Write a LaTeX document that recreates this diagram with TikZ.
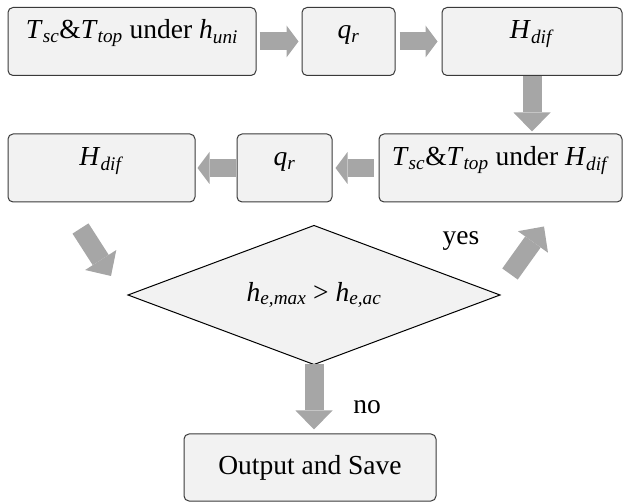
\documentclass[tikz,border=0pt]{standalone}
\usepackage{fontspec}
\setmainfont{Liberation Serif}
\usetikzlibrary{calc,positioning,shapes.geometric,arrows.meta}
\definecolor{boxfill}{HTML}{F2F2F2}
\definecolor{arrowgray}{HTML}{A6A6A6}
\definecolor{boxline}{HTML}{3A3A3A}
\newcommand{\isub}[2]{\textit{#1}\textsubscript{\textit{#2}}}

\begin{document}
\begin{tikzpicture}[x=1pt,y=-1pt,
	font=\fontsize{27.5}{33}\selectfont,
	box/.style={draw=boxline,line width=1pt,fill=boxfill,rounded corners=5pt,inner sep=0pt,minimum height=68pt},
	toptext/.style={text height=20pt,text depth=25pt},
	decision/.style={diamond,draw=black,line width=1pt,fill=boxfill,inner sep=0pt,outer sep=0pt,aspect=2.7,minimum width=372pt,minimum height=139pt},
	harrow/.style={draw=arrowgray,line width=18pt,-{Triangle[length=12pt,width=32pt,line width=0pt]}},
	varrow/.style={draw=arrowgray,line width=19pt,-{Triangle[length=19pt,width=37pt,line width=0pt]}}]
	\useasboundingbox (0,0) rectangle (624,502);
	
	% first row
	\node[box,toptext,minimum width=248pt] (tuni) at (132,41.5) {\isub{T}{sc}\&\isub{T}{top} under \isub{h}{uni}};
	\node[box,toptext,minimum width=93pt] (qfirst) at (348.5,41.5) {\isub{q}{r}};
	\node[box,toptext,minimum width=180pt] (hfirst) at (532,41.5) {\isub{H}{dif}};
	
	% second row
	\node[box,toptext,minimum width=243pt] (hsecond) at (500.5,168) {\isub{T}{sc}\&\isub{T}{top} under \isub{H}{dif}};
	\node[box,toptext,minimum width=95pt] (qsecond) at (284.5,168) {\isub{q}{r}};
	\node[box,toptext,minimum width=187pt] (hthird) at (101.5,168) {\isub{H}{dif}};
	
	% check and output
	\node[decision] (check) at (314,295) {\isub{h}{e,max} > \isub{h}{e,ac}};
	\node[box,minimum width=252pt,minimum height=67pt] (output) at (310,467.5) {Output and Save};
	
	\node (yes) at (461,241) {yes};
	\node (no) at (367,407) {no};
	
	\draw[harrow] ([xshift=3pt]tuni.east) -- ([xshift=-3pt]qfirst.west);
	\draw[harrow] ([xshift=4pt]qfirst.east) -- ([xshift=-4pt]hfirst.west);
	\draw[varrow,shorten >=2pt] (hfirst.south) -- (hfirst.south |- hsecond.north);
	\draw[harrow] ([xshift=-5pt]hsecond.west) -- ([xshift=3pt]qsecond.east);
	\draw[harrow] ([xshift=-1pt]qsecond.west) -- ([xshift=2pt]hthird.east);
	\draw[varrow] ([shift={(-21,26)}]hthird.south) -- ([shift={(-17,-19)}]check.west);
	\draw[varrow] ([shift={(10,-21)}]check.east) -- ([shift={(43.5,24)}]hsecond.south);
	\draw[varrow,shorten >=4pt] (check.south) -- (check.south |- output.north);
\end{tikzpicture}
\end{document}
